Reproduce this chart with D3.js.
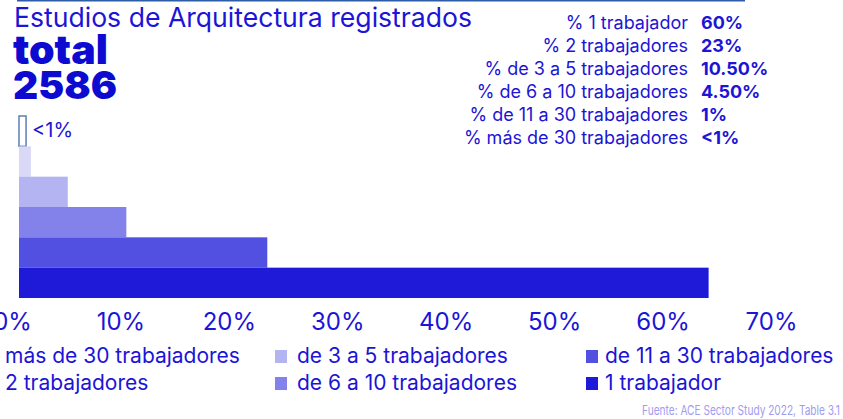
<!DOCTYPE html>
<html>
<head>
  <meta charset="utf-8">
  <script src="https://d3js.org/d3.v7.min.js"></script>
  <style>
    html, body {
        margin: 0px;
        padding: 0px;
        background: #fff;
        overflow: hidden;
    }
    svg text {
        font-family: Inter, Roboto, "Liberation Sans", sans-serif;
        fill: #1c14d6;
    }
  </style>
  <title></title>
</head>
<body>
  <div id="chart"></div>
<script>
    // data
    var categories = ["más de 30 trabajadores", "de 11 a 30 trabajadores", "de 6 a 10 trabajadores",
                      "de 3 a 5 trabajadores", "2 trabajadores", "1 trabajador"];
    var values = [0.65, 1.1, 4.5, 9.9, 22.9, 63.6];
    var barColors = ["#ffffff", "#d9d9f7", "#b5b4f2", "#8382ea", "#5250e0", "#1f1ad8"];
    var ticks = [0, 10, 20, 30, 40, 50, 60, 70];

    var listLabels = ["% 1 trabajador", "% 2 trabajadores", "% de 3 a 5 trabajadores",
                      "% de 6 a 10 trabajadores", "% de 11 a 30 trabajadores", "% más de 30 trabajadores"];
    var listValues = ["60%", "23%", "10.50%", "4.50%", "1%", "<1%"];

    var legendLabels = ["más de 30 trabajadores", "2 trabajadores", "de 3 a 5 trabajadores",
                        "de 6 a 10 trabajadores", "de 11 a 30 trabajadores", "1 trabajador"];
    var legendColors = ["#ffffff", "#d9d9f7", "#b5b4f2", "#8382ea", "#5250e0", "#1f1ad8"];

    var width = 843, height = 419;
    var svg = d3.select("#chart").append("svg")
        .attr("width", width)
        .attr("height", height);

    // thin rule on top
    svg.append("line")
        .attr("x1", 17).attr("x2", 745)
        .attr("y1", 0.5).attr("y2", 0.5)
        .style("stroke", "#2d5ca8")
        .style("stroke-width", 2);

    // header
    svg.append("text")
        .text("Estudios de Arquitectura registrados")
        .attr("x", 14).attr("y", 27)
        .style("font-size", "26.6px");
    svg.append("text")
        .text("total")
        .attr("x", 13).attr("y", 64)
        .style("font-size", "41px")
        .style("font-weight", 900)
        .style("fill", "#0d0bd0");
    svg.append("text")
        .text("2586")
        .attr("x", 13).attr("y", 99)
        .style("font-size", "39px")
        .style("font-weight", 900)
        .style("fill", "#0d0bd0");

    // right-hand list
    var list = svg.append("g");
    list.selectAll("text.lab")
        .data(listLabels)
        .enter().append("text")
        .attr("class", "lab")
        .text(function(d) { return d; })
        .attr("x", 688)
        .attr("y", function(d, i) { return 29 + i * 22.9; })
        .attr("text-anchor", "end")
        .style("font-size", "18px");
    list.selectAll("text.val")
        .data(listValues)
        .enter().append("text")
        .attr("class", "val")
        .text(function(d) { return d; })
        .attr("x", 701)
        .attr("y", function(d, i) { return 29 + i * 22.9; })
        .style("font-size", "18px")
        .style("font-weight", "bold");

    // bars
    var x = d3.scaleLinear().domain([0, 70]).range([19, 778]);
    var y = d3.scaleBand().domain(categories).range([116, 298]).padding(0);

    svg.selectAll("rect.bar")
        .data(values)
        .enter().append("rect")
        .attr("class", "bar")
        .attr("x", x(0))
        .attr("y", function(d, i) { return y(categories[i]); })
        .attr("width", function(d) { return x(d) - x(0); })
        .attr("height", y.bandwidth())
        .style("fill", function(d, i) { return barColors[i]; })
        .style("stroke", function(d, i) { return i == 0 ? "#5b7fb5" : "none"; })
        .style("stroke-width", 1.5);

    svg.append("text")
        .text("<1%")
        .attr("x", x(values[0]) + 6)
        .attr("y", y(categories[0]) + 21)
        .style("font-size", "20px");

    // x axis, labels only
    var axis = svg.append("g")
        .attr("transform", "translate(0,305)")
        .call(d3.axisBottom(x).tickValues(ticks).tickFormat(function(d) { return d + "%"; }).tickSize(0));
    axis.select(".domain").remove();
    axis.selectAll("text")
        .attr("dx", -7)
        .attr("dy", 22)
        .style("font-family", "Inter, Roboto, sans-serif")
        .style("font-size", "24px")
        .style("fill", "#1c14d6");

    // legend, 3 columns x 2 rows
    var legX = [-17, 275, 586];
    var legY = [350, 377];
    var legend = svg.selectAll("g.leg")
        .data(legendLabels)
        .enter().append("g")
        .attr("class", "leg")
        .attr("transform", function(d, i) {
            return "translate(" + legX[Math.floor(i / 2)] + "," + legY[i % 2] + ")";
        });
    legend.append("rect")
        .attr("width", 12).attr("height", 13)
        .style("fill", function(d, i) { return legendColors[i]; });
    legend.append("text")
        .text(function(d) { return d; })
        .attr("x", function(d, i) { return Math.floor(i / 2) == 2 ? 19 : 22; })
        .attr("y", 12.5)
        .style("font-size", "21px");

    // source (condensed face in the original)
    svg.append("text")
        .text("Fuente: ACE Sector Study 2022, Table 3.1")
        .attr("x", 840).attr("y", 415)
        .attr("text-anchor", "end")
        .attr("textLength", 198)
        .attr("lengthAdjust", "spacingAndGlyphs")
        .style("font-size", "13.5px")
        .style("fill", "#a09cf0");
</script>
</body>
</html>
